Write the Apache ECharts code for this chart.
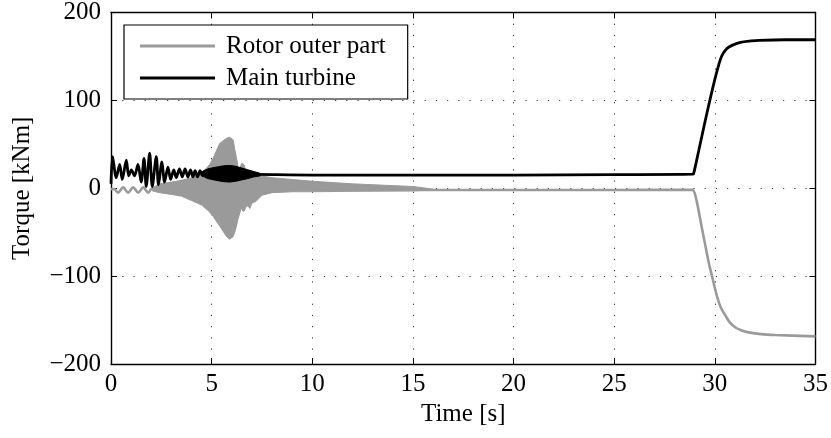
<!DOCTYPE html>
<html><head><meta charset="utf-8">
<script src="https://cdn.jsdelivr.net/npm/echarts@6/dist/echarts.min.js"></script>
<style>html,body{margin:0;padding:0;background:#fff}#c{width:831px;height:438px}</style>
</head><body><div id="c"></div>
<script>
const seriesNames = ['Rotor outer part', 'Main turbine'];
const xTicks = [0, 5, 10, 15, 20, 25, 30, 35];
const yTicks = [-200, -100, 0, 100, 200];
const xTitle = 'Time [s]';
const yTitle = 'Torque [kNm]';

// Rotor outer part (grey) – centre line
const rotorT = [0, 0.15, 0.35, 0.6, 0.85, 1.1, 1.35, 1.6, 1.85, 2.05, 2.5, 4, 6, 8, 10, 15, 20, 25, 28.87, 29.04, 29.37, 29.7, 29.86, 30.1, 30.3, 30.53, 30.75, 31.02, 31.3, 31.68, 32.3, 33, 35];
const rotorV = [-1, -1, -5, 1, -5, 1, -5, 1, -5, 0, -1, -1, -1, -1, -1.5, -2, -2, -2, -1.7, -9, -47, -85, -100, -122.6, -136, -145, -153, -158.5, -161.5, -164, -166, -167, -168.6];
// Rotor outer part – envelope of the fast oscillation
const rotorBandT  = [2.05, 2.4, 3.0, 3.5, 4.0, 4.5, 4.75, 4.9, 5.07, 5.4, 5.74, 5.9, 6.07, 6.15, 6.23, 6.31, 6.4, 6.48, 6.55, 6.62, 6.7, 6.8, 6.9, 7.0, 7.2, 7.5, 8.0, 9.0, 10, 12, 15, 16];
const rotorBandHi = [0, 5, 7, 9, 12, 18, 23, 27, 34, 51, 57, 58, 55, 44, 35, 25, 22, 28, 28, 26, 20, 18, 17, 16, 15, 14, 12, 10, 8, 5, 2, -1];
const rotorBandLo = [-3, -5, -7, -9, -14, -19, -24, -27, -32, -43, -55, -58, -55, -50, -43, -35, -28, -22, -26, -26, -21, -20, -23, -17, -15, -8, -5, -4, -4, -3.5, -3, -2];

// Main turbine (black) – centre line
const turbineT = [0, 0.08, 0.26, 0.43, 0.56, 0.76, 0.88, 1.01, 1.17, 1.34, 1.50, 1.64, 1.75, 1.92, 2.05, 2.25, 2.36, 2.53, 2.66, 2.83, 2.96, 3.12, 3.24, 3.40, 3.54, 3.68, 3.82, 3.95, 4.07, 4.18, 4.30, 4.43, 4.55, 4.65, 5, 6, 7, 8, 10, 15, 20, 25, 28.9, 28.95, 29.2, 29.53, 29.75, 30.03, 30.2, 30.35, 30.6, 30.85, 31.27, 31.8, 32.2, 33.5, 35];
const turbineV = [5, 36, 12, 27, 10, 32, 14, 21, 14, 27, 7, 34, 2, 40, 2, 36, 4, 30, 7, 24, 10, 21, 12, 22, 13, 22, 13, 21, 13, 20, 13, 20, 14, 19, 17, 17, 16, 15.5, 15, 15, 15, 15.5, 16, 17, 43, 77.6, 100, 126.7, 141, 151, 159, 162.6, 166, 167.6, 168.3, 169, 169];
// Main turbine – envelope of the fast oscillation
const turbineBandT  = [4.55, 4.8, 5.2, 5.6, 5.9, 6.2, 6.5, 6.8, 7.1, 7.4];
const turbineBandHi = [19, 22, 24, 25.5, 26, 25, 23, 21, 19, 17];
const turbineBandLo = [14, 11, 9, 7.5, 7, 8, 9.5, 11, 13, 14];

const GREY = '#9a9a9a', BLACK = '#000';
const FONT = 'Liberation Serif';
const FS = 25;
const pairs = (t, v) => t.map((x, i) => [x, v[i]]);
const fmt = v => String(v).replace('-', '\u2212');

function band(t, hi, lo, color) {
  return {
    type: 'custom', silent: true, data: [[t[0], hi[0]]],
    renderItem: (params, api) => {
      const pts = [];
      for (let i = 0; i < t.length; i++) pts.push(api.coord([t[i], hi[i]]));
      for (let i = t.length - 1; i >= 0; i--) pts.push(api.coord([t[i], lo[i]]));
      return { type: 'polygon', shape: { points: pts }, style: { fill: color, stroke: color, lineWidth: 1 } };
    }
  };
}

const axisBase = {
  type: 'value',
  axisLine: { show: true, onZero: false, lineStyle: { color: '#000', width: 1.4 } },
  axisTick: { show: true, inside: true, length: 6, lineStyle: { color: '#000', width: 1 } }
};

const chart = echarts.init(document.getElementById('c'), null, { renderer: 'canvas' });
chart.setOption({
  animation: false,
  backgroundColor: '#fff',
  textStyle: { fontFamily: FONT },
  grid: { left: 111, right: 14, top: 12, bottom: 74 },
  legend: {
    data: seriesNames,
    orient: 'vertical', left: 124, top: 25, icon: 'rect',
    backgroundColor: '#fff', borderColor: '#000', borderWidth: 1.2, borderRadius: 0,
    padding: [6, 22, 6, 16], itemGap: 2, itemWidth: 75, itemHeight: 3,
    textStyle: { fontFamily: FONT, fontSize: FS, color: '#000', lineHeight: 30, padding: [0, 0, 0, 6] }
  },
  xAxis: [
    Object.assign({}, axisBase, {
      min: xTicks[0], max: xTicks[xTicks.length - 1], interval: xTicks[1] - xTicks[0],
      name: xTitle, nameLocation: 'middle', nameGap: 37,
      nameTextStyle: { fontFamily: FONT, fontSize: FS, color: '#000' },
      axisLabel: { fontFamily: FONT, fontSize: FS, color: '#000', margin: 8, formatter: fmt },
      splitLine: { show: true, lineStyle: { color: '#333', width: 1, type: [1.2, 10] } }
    }),
    Object.assign({}, axisBase, {
      position: 'top', min: xTicks[0], max: xTicks[xTicks.length - 1], interval: xTicks[1] - xTicks[0],
      axisLabel: { show: false }, splitLine: { show: false }
    })
  ],
  yAxis: [
    Object.assign({}, axisBase, {
      min: yTicks[0], max: yTicks[yTicks.length - 1], interval: yTicks[1] - yTicks[0],
      name: yTitle, nameLocation: 'middle', nameGap: 76, nameRotate: 90,
      nameTextStyle: { fontFamily: FONT, fontSize: FS, color: '#000' },
      axisLabel: { fontFamily: FONT, fontSize: FS, color: '#000', margin: 10, formatter: fmt },
      splitLine: { show: true, lineStyle: { color: '#333', width: 1, type: [1.2, 10] } }
    }),
    Object.assign({}, axisBase, {
      position: 'right', min: yTicks[0], max: yTicks[yTicks.length - 1], interval: yTicks[1] - yTicks[0],
      axisLabel: { show: false }, splitLine: { show: false }
    })
  ],
  series: [
    band(rotorBandT, rotorBandHi, rotorBandLo, GREY),
    { name: seriesNames[0], type: 'line', data: pairs(rotorT, rotorV), symbol: 'none', smooth: 0.3,
      lineStyle: { color: GREY, width: 2.6 }, itemStyle: { color: GREY } },
    band(turbineBandT, turbineBandHi, turbineBandLo, BLACK),
    { name: seriesNames[1], type: 'line', data: pairs(turbineT, turbineV), symbol: 'none', smooth: 0.3,
      lineStyle: { color: BLACK, width: 2.8 }, itemStyle: { color: BLACK } }
  ]
});
</script></body></html>
